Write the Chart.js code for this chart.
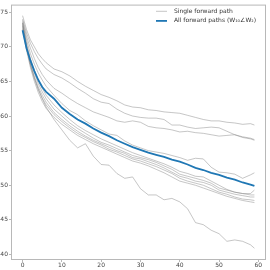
<!DOCTYPE html>
<html>
<head>
<meta charset="utf-8">
<script src="https://cdn.jsdelivr.net/npm/chart.js@4"></script>
<style>
  html, body { margin: 0; padding: 0; background: #fff; }
</style>
</head>
<body>
<canvas id="chart" width="270" height="270"></canvas>
<script>
// x positions (training step) shared by every path
const steps = [0, 1, 2, 3, 4, 5, 6, 8, 10, 12, 14, 16, 18, 20, 22, 24, 26, 28, 30,
  32, 34, 36, 38, 40, 42, 44, 46, 48, 50, 52, 54, 56, 58, 59];

// all forward paths (blue)
const allPaths = [72.4, 69.8, 68.0, 66.5, 65.2, 64.2, 63.5, 62.5, 61.2, 60.3, 59.5, 58.9, 58.2, 57.6, 57.1, 56.5, 56.0,
  55.5, 55.1, 54.7, 54.4, 54.1, 53.7, 53.4, 53.0, 52.5, 52.2, 51.8, 51.5, 51.1, 50.8, 50.4, 50.1, 49.9];

// single forward paths (grey)
const pathA = [74.5, 72.5, 71.0, 70.0, 69.0, 68.3, 67.7, 66.8, 66.4, 65.8, 65.0, 64.3, 63.7, 63.1, 62.7, 62.2, 61.6,
  61.3, 61.2, 60.9, 60.8, 60.6, 60.5, 60.4, 60.1, 59.8, 59.5, 59.3, 59.3, 59.1, 59.0, 58.8, 58.9, 58.7];
const pathB = [74.0, 72.0, 70.5, 69.3, 68.3, 67.5, 66.8, 66.0, 65.5, 64.8, 64.0, 63.3, 62.5, 62.0, 61.8, 61.0, 60.4,
  60.0, 59.8, 59.7, 59.7, 59.5, 58.7, 58.7, 58.4, 58.2, 58.3, 58.4, 58.3, 57.8, 57.3, 56.9, 56.7, 56.5];
const pathC = [73.8, 71.5, 69.8, 68.3, 67.0, 66.0, 65.2, 64.0, 63.3, 62.5, 61.8, 61.2, 60.6, 60.2, 59.8, 59.3, 59.1,
  59.3, 59.1, 58.5, 58.3, 58.2, 58.0, 57.7, 57.8, 57.6, 57.5, 57.3, 57.1, 57.2, 57.3, 57.0, 56.8, 56.6];
const pathD = [73.5, 71.0, 69.0, 67.5, 66.2, 65.2, 64.3, 63.0, 61.8, 60.8, 60.2, 59.3, 58.6, 58.0, 57.4, 57.2, 56.4,
  55.8, 55.4, 55.0, 54.8, 54.6, 54.3, 54.0, 53.6, 53.9, 53.8, 52.6, 51.9, 51.8, 51.6, 51.0, 51.5, 51.8];
const pathE = [73.2, 70.5, 68.3, 66.6, 65.2, 64.0, 63.0, 61.6, 60.5, 59.5, 58.6, 57.9, 57.3, 56.7, 56.2, 55.7, 55.2,
  54.7, 54.3, 53.9, 53.5, 53.1, 52.6, 52.0, 51.7, 51.3, 51.2, 50.6, 50.0, 49.4, 49.0, 48.8, 48.8, 49.3];
const pathF = [73.0, 70.2, 68.0, 66.2, 64.7, 63.5, 62.5, 61.0, 60.0, 59.0, 58.2, 57.5, 56.8, 56.2, 55.8, 55.3, 54.8,
  54.3, 54.0, 53.7, 53.3, 52.8, 52.3, 51.6, 51.3, 51.0, 50.7, 50.3, 49.6, 49.3, 49.0, 48.8, 48.6, 48.6];
const pathG = [72.8, 69.8, 67.5, 65.7, 64.2, 63.0, 62.0, 60.5, 59.5, 58.6, 57.8, 57.1, 56.5, 56.0, 55.5, 55.0, 54.6,
  54.0, 53.8, 53.4, 53.0, 52.5, 51.9, 51.3, 51.0, 50.6, 50.4, 50.0, 49.3, 49.0, 48.7, 48.5, 48.3, 48.3];
const pathH = [73.4, 70.0, 67.3, 65.4, 63.9, 62.6, 61.6, 60.2, 59.2, 58.3, 57.5, 56.9, 56.3, 55.8, 55.2, 54.8, 54.3,
  53.8, 53.5, 53.1, 52.7, 52.2, 51.7, 51.0, 50.6, 50.3, 50.0, 49.5, 49.0, 48.7, 48.3, 48.0, 47.9, 47.8];
const pathI = [72.6, 69.5, 67.0, 65.0, 63.4, 62.1, 61.1, 59.8, 58.8, 58.0, 57.2, 56.6, 56.0, 55.5, 55.0, 54.5, 54.0,
  53.5, 53.2, 52.8, 52.3, 51.8, 51.2, 50.6, 50.3, 50.0, 49.6, 49.2, 48.8, 48.4, 48.1, 47.8, 47.6, 47.5];
const pathL = [73.5, 70.0, 67.5, 65.5, 63.8, 62.5, 61.3, 59.5, 58.0, 56.5, 55.4, 56.0, 54.2, 53.0, 52.9, 51.7, 51.0,
  51.2, 49.5, 48.6, 48.6, 47.9, 48.1, 47.6, 46.6, 44.6, 44.3, 43.5, 43.0, 41.9, 42.1, 41.9, 41.4, 40.9];

const singlePaths = [pathA, pathB, pathC, pathD, pathE, pathF, pathG, pathH, pathI, pathL];

const xTicks = [0, 10, 20, 30, 40, 50, 60];
const yTicks = [40, 45, 50, 55, 60, 65, 70, 75];

const legendLabels = ["Single forward path", "All forward paths (W\u2081\u2080\u2220W\u2082)"];

const toPoints = vals => vals.map((v, i) => ({ x: steps[i], y: v }));

const GREY = "rgba(128,128,128,0.5)";
const BLUE = "#1f77b4";
const FONT = "DejaVu Sans";

const datasets = [
  { data: toPoints(allPaths), borderColor: BLUE, borderWidth: 1.8 }
].concat(singlePaths.map(p => ({ data: toPoints(p), borderColor: GREY, borderWidth: 0.9 })));

// box around the plot and a hand-drawn legend like matplotlib's
const frameAndLegend = {
  id: "frameAndLegend",
  afterDraw(chart) {
    const { ctx, chartArea: a } = chart;
    ctx.save();
    ctx.strokeStyle = "#b8b8b8";
    ctx.lineWidth = 1;
    ctx.strokeRect(a.left + 0.5, a.top + 0.5, a.right - a.left - 1, a.bottom - a.top - 1);

    const rows = [{ c: GREY, w: 0.9 }, { c: BLUE, w: 1.8 }];
    ctx.font = "6px " + FONT;
    ctx.textBaseline = "middle";
    ctx.fillStyle = "#333";
    rows.forEach((r, i) => {
      const y = 11.3 + i * 9.6;
      ctx.beginPath();
      ctx.strokeStyle = r.c;
      ctx.lineWidth = r.w;
      ctx.moveTo(156, y);
      ctx.lineTo(167, y);
      ctx.stroke();
      ctx.fillText(legendLabels[i], 174, y);
    });
    ctx.restore();
  }
};

new Chart(document.getElementById("chart"), {
  type: "line",
  data: { datasets },
  options: {
    responsive: false,
    animation: false,
    layout: { padding: { left: 0, top: 3, right: 4, bottom: 0 } },
    elements: { point: { radius: 0 }, line: { tension: 0, fill: false } },
    plugins: { legend: { display: false }, tooltip: { enabled: false } },
    scales: {
      x: {
        type: "linear",
        min: -2.95,
        max: 61.95,
        afterBuildTicks: s => { s.ticks = xTicks.map(v => ({ value: v })); },
        afterFit: s => { s.height = 10; },
        grid: { drawOnChartArea: false, tickLength: 2, color: "#b8b8b8" },
        border: { display: false },
        ticks: { padding: 0, maxRotation: 0, color: "#444", font: { family: FONT, size: 6 } }
      },
      y: {
        min: 39.2,
        max: 76.1,
        afterBuildTicks: s => { s.ticks = yTicks.map(v => ({ value: v })); },
        afterFit: s => { s.width = 11; },
        grid: { drawOnChartArea: false, tickLength: 2, color: "#b8b8b8" },
        border: { display: false },
        ticks: { padding: 1, color: "#444", font: { family: FONT, size: 6 } }
      }
    }
  },
  plugins: [frameAndLegend]
});
</script>
</body>
</html>
